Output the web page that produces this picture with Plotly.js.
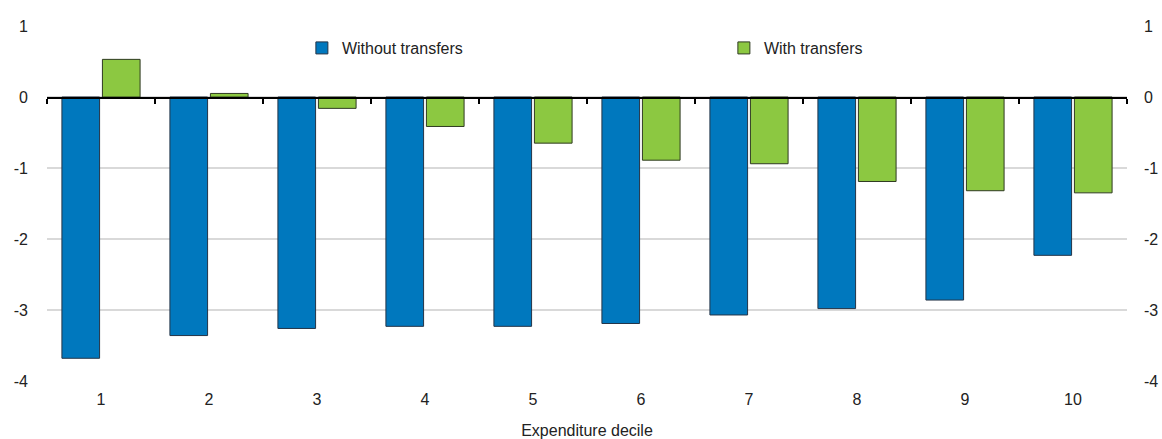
<!DOCTYPE html>
<html>
<head>
<meta charset="utf-8">
<script src="https://cdn.plot.ly/plotly-3.0.1.min.js"></script>
<style>html,body{margin:0;padding:0;background:#fff;}#chart{width:1162px;height:439px;}</style>
</head>
<body>
<div id="chart"></div>
<script>
const categories = ['1','2','3','4','5','6','7','8','9','10'];
const withoutTransfers = [-3.68, -3.36, -3.26, -3.23, -3.23, -3.19, -3.07, -2.98, -2.86, -2.23];
const withTransfers = [0.53, 0.05, -0.16, -0.415, -0.65, -0.89, -0.94, -1.19, -1.32, -1.35];
const yTicks = [1, 0, -1, -2, -3, -4];
const boundaryTicks = [-0.5, 0.5, 1.5, 2.5, 3.5, 4.5, 5.5, 6.5, 7.5, 8.5, 9.5];

const FONT = '"Liberation Sans Narrow", "Arial Narrow", "Liberation Sans", Arial, sans-serif';
const TXT = '#222';
const FS = 16;

const traces = [
  {type:'bar', name:'Without transfers', x:categories, y:withoutTransfers,
   marker:{color:'#0078be', line:{color:'#243447', width:1}}},
  {type:'bar', name:'With transfers', x:categories, y:withTransfers,
   marker:{color:'#8cc841', line:{color:'#2f3a22', width:1}}},
  {type:'scatter', mode:'markers', x:[null], y:[null], xaxis:'x2', yaxis:'y2',
   showlegend:false, hoverinfo:'skip'}
];

const layout = {
  width:1162, height:439,
  margin:{l:47, r:35, t:26, b:58},
  paper_bgcolor:'#fff', plot_bgcolor:'#fff',
  font:{family:FONT, size:FS, color:TXT},
  barmode:'group', bargap:0.25, bargroupgap:0.07,
  showlegend:true,
  legend:{orientation:'h', x:0.236, xanchor:'left', y:0.938, yanchor:'middle',
          entrywidth:377, entrywidthmode:'pixels',
          font:{family:FONT, size:FS, color:TXT}, bgcolor:'rgba(0,0,0,0)', traceorder:'normal'},
  xaxis:{type:'category', range:[-0.5, 9.5], showline:false, showgrid:false, zeroline:false,
         ticks:'', tickfont:{family:FONT, size:FS, color:TXT}, ticklabelstandoff:7,
         title:{text:'Expenditure decile', font:{family:FONT, size:FS, color:TXT}, standoff:18}},
  xaxis2:{overlaying:'x', anchor:'free', position:0.8, side:'bottom', type:'linear',
          range:[-0.5, 9.5], tickmode:'array', tickvals:boundaryTicks, showticklabels:false,
          ticks:'outside', ticklen:5, tickwidth:1.5, tickcolor:'#000',
          showline:true, linecolor:'#000', linewidth:1.5, showgrid:false, zeroline:false},
  yaxis:{range:[-4, 1], tickmode:'array', tickvals:yTicks, ticktext:yTicks.map(String),
         showgrid:true, gridcolor:'#d9d9d9', gridwidth:1.5, zeroline:false, showline:false,
         ticks:'', ticklabelstandoff:18, tickfont:{family:FONT, size:FS, color:TXT}},
  yaxis2:{overlaying:'y', side:'right', anchor:'x', range:[-4, 1], tickmode:'array', tickvals:yTicks,
          ticktext:yTicks.map(String), showgrid:false, zeroline:false, showline:false, ticks:'',
          ticklabelstandoff:16, tickfont:{family:FONT, size:FS, color:TXT}}
};

Plotly.newPlot('chart', traces, layout, {displayModeBar:false, staticPlot:true});
</script>
</body>
</html>
